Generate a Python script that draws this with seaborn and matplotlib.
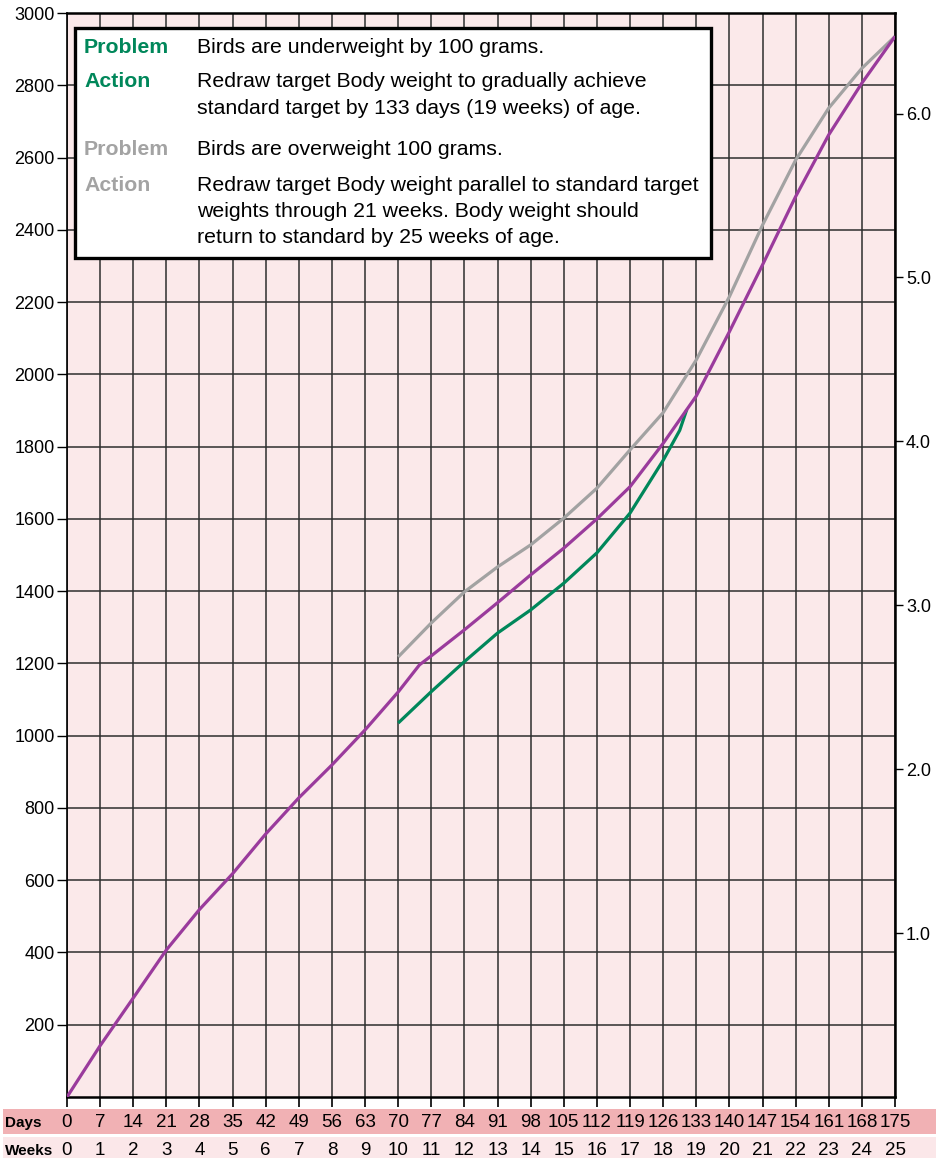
import numpy as np
import pandas as pd
import matplotlib
matplotlib.use("Agg")
import matplotlib.pyplot as plt
import matplotlib.transforms as mtransforms
from matplotlib.patches import Rectangle
import seaborn as sns

# ---------------- data ----------------
standard_days = [0, 7, 14, 21, 28, 35, 42, 49, 56, 63, 70, 74.5, 77, 84, 91, 98,
                 105, 112, 119, 126, 133, 140, 147, 154, 161, 168, 175]
standard_weight = [0, 142, 274, 407, 519, 618, 728, 828, 919, 1016, 1121, 1196, 1221,
                   1293, 1368, 1445, 1519, 1600, 1689, 1809, 1940, 2118, 2303, 2492,
                   2663, 2806, 2935]

under_days = [70, 77, 84, 91, 98, 105, 112, 119, 126, 129.5, 131]
under_weight = [1035, 1122, 1205, 1284, 1348, 1422, 1506, 1616, 1762, 1845, 1903]

over_days = [70, 77, 84, 91, 98, 105, 112, 119, 126, 133, 140, 147, 154, 161, 168, 175]
over_weight = [1218, 1312, 1398, 1467, 1528, 1602, 1685, 1791, 1894, 2040, 2215, 2413,
               2593, 2737, 2847, 2935]

day_ticks = list(range(0, 176, 7))
week_labels = [str(w) for w in range(0, 26)]
gram_ticks = list(range(200, 3001, 200))
pound_ticks = [1, 2, 3, 4, 5, 6]
pound_labels = ["1.0", "2.0", "3.0", "4.0", "5.0", "6.0"]

box_rows = [
    ("Problem", "green", ["Birds are underweight by 100 grams."]),
    ("Action", "green", ["Redraw target Body weight to gradually achieve",
                         "standard target by 133 days (19 weeks) of age."]),
    ("Problem", "gray", ["Birds are overweight 100 grams."]),
    ("Action", "gray", ["Redraw target Body weight parallel to standard target",
                        "weights through 21 weeks. Body weight should",
                        "return to standard by 25 weeks of age."]),
]

# ---------------- style ----------------
sns.set_style("white")
plt.rcParams['font.family'] = ['Liberation Sans', 'DejaVu Sans']

GREEN = "#00875a"
PURPLE = "#9a3b9c"
GRAY_LINE = "#a2a2a2"
GRAY_TEXT = "#a3a3a3"
BG = "#fbe9ea"
DAYS_BAND = "#f1b1b4"
WEEKS_BAND = "#fbe7e9"

W, H = 942, 1158
fig = plt.figure(figsize=(W / 100, H / 100), dpi=100)

def fx(px):
    return px / W

def fy(py):
    return 1 - py / H

ax = fig.add_axes([fx(67), fy(1097), fx(895) - fx(67), fy(13) - fy(1097)])
ax.set_facecolor(BG)

std_df = pd.DataFrame({"day": standard_days, "weight": standard_weight})
und_df = pd.DataFrame({"day": under_days, "weight": under_weight})
ovr_df = pd.DataFrame({"day": over_days, "weight": over_weight})

lw = 2.3
sns.lineplot(data=ovr_df, x="day", y="weight", ax=ax, color=GRAY_LINE, lw=lw,
             sort=False, estimator=None, zorder=3)
sns.lineplot(data=und_df, x="day", y="weight", ax=ax, color=GREEN, lw=lw,
             sort=False, estimator=None, zorder=3)
sns.lineplot(data=std_df, x="day", y="weight", ax=ax, color=PURPLE, lw=lw,
             sort=False, estimator=None, zorder=4)
for ln in ax.get_lines():
    ln.set_solid_joinstyle("round")
    ln.set_solid_capstyle("butt")

ax.set_xlim(0, 175)
ax.set_ylim(0, 3000)
ax.set_xlabel("")
ax.set_ylabel("")

ax.set_xticks(day_ticks)
ax.set_xticklabels([])
ax.set_yticks(gram_ticks)
ax.set_yticklabels([str(g) for g in gram_ticks])
ax.tick_params(axis="x", direction="out", length=7, width=1.2, color="black", bottom=True)
ax.tick_params(axis="y", direction="out", length=7, width=1.0, color="black", left=True,
               labelsize=13, pad=2, labelcolor="black")

ax.grid(True, which="major", color="#2e2e2e", lw=1.1)
ax.set_axisbelow(True)
for s in ax.spines.values():
    s.set_visible(True)
    s.set_color("black")
    s.set_linewidth(1.8)
ax.spines["left"].set_linewidth(1.2)

# right axis in pounds
sec = ax.secondary_yaxis("right", functions=(lambda g: g / 453.6, lambda lb: lb * 453.6))
sec.set_yticks(pound_ticks)
sec.set_yticklabels(pound_labels)
sec.tick_params(direction="out", length=6, width=1.0, labelsize=13, pad=2, colors="black")
sec.spines["right"].set_visible(False)

# bottom label bands (drawn beneath the axes / texts)
fig.patches.append(Rectangle((fx(3), fy(1134)), fx(936) - fx(3), fy(1109) - fy(1134),
                             transform=fig.transFigure, facecolor=DAYS_BAND,
                             edgecolor="none", zorder=-2))
fig.patches.append(Rectangle((fx(3), fy(1158)), fx(936) - fx(3), fy(1137) - fy(1158),
                             transform=fig.transFigure, facecolor=WEEKS_BAND,
                             edgecolor="none", zorder=-2))

trans = mtransforms.blended_transform_factory(ax.transData, fig.transFigure)
for d, wl in zip(day_ticks, week_labels):
    fig.text(d, fy(1127), str(d), transform=trans, ha="center", va="baseline",
             fontsize=13.5, color="black")
    fig.text(d, fy(1155), wl, transform=trans, ha="center", va="baseline",
             fontsize=13.5, color="black")
fig.text(fx(5), fy(1127), "Days", ha="left", va="baseline", fontsize=11,
         fontweight="bold", color="black")
fig.text(fx(5), fy(1155), "Weeks", ha="left", va="baseline", fontsize=11,
         fontweight="bold", color="black")

# annotation box
box = Rectangle((fx(75), fy(258)), fx(711) - fx(75), fy(28) - fy(258),
                transform=fig.transFigure, facecolor="white", edgecolor="black",
                lw=2.4, zorder=10, clip_on=False)
ax.add_patch(box)

baselines = [[53], [87, 114], [155], [191, 217, 243]]
for (label, col, lines), bls in zip(box_rows, baselines):
    c = GREEN if col == "green" else GRAY_TEXT
    ax.text(fx(84), fy(bls[0]), label, transform=fig.transFigure, ha="left",
            va="baseline", fontsize=15.3, fontweight="bold", color=c, zorder=11,
            clip_on=False)
    for ln, bl in zip(lines, bls):
        ax.text(fx(197), fy(bl), ln, transform=fig.transFigure, ha="left",
                va="baseline", fontsize=15.3, color="black", zorder=11, clip_on=False)

fig.savefig("out.png", dpi=100, facecolor="white")
